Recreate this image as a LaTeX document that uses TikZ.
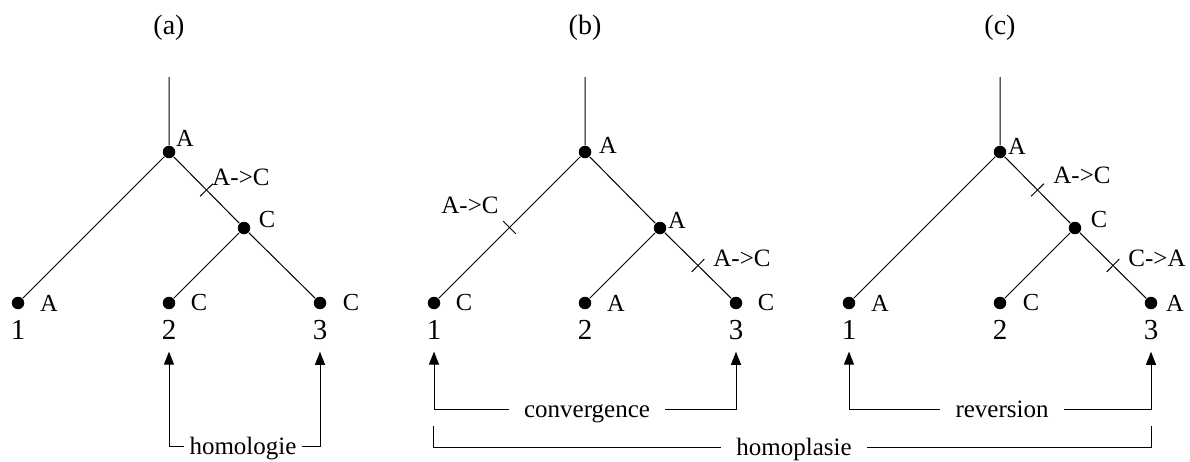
\documentclass[tikz,border=0pt]{standalone}
\usepackage{fontspec}
\setmainfont{Liberation Serif}
\usetikzlibrary{positioning,arrows.meta}

\begin{document}
\begin{tikzpicture}[x=1pt, y=-1pt, line width=1pt,
    dot/.style={circle, fill, inner sep=0pt, minimum size=12.5pt},
    st/.style={font=\fontsize{24.5}{26}\selectfont, inner sep=0pt},
    mut/.style={font=\fontsize{25}{27}\selectfont, inner sep=0pt},
    num/.style={font=\fontsize{29}{31}\selectfont, inner sep=0pt, outer ysep=12pt},
    ttl/.style={font=\fontsize{28}{30}\selectfont, inner sep=0pt},
    mutmark/.style={draw, sloped, inner sep=0pt, minimum width=0pt, minimum height=18pt},
    lab/.style={font=\fontsize{25}{27}\selectfont, inner ysep=0pt, inner xsep=15pt,
      text height=17pt, text depth=0pt},
    arr/.style={-{Triangle[length=13pt, width=10pt]}}]
  \useasboundingbox (0,0) rectangle (1190,461);

  % the three trees
  \foreach \t/\x/\n in {a/169/(a), b/585/(b), c/1000/(c)} {
    \node[ttl] (\t-title) at (\x,28) {\n};
    \coordinate (\t-top) at (\x,77);
    \node[dot] (\t0) at (\x,152) {};
    \node[dot] (\t4) at (\x+75,228) {};
    \node[dot] (\t1) at (\x-151,303) {};
    \node[dot] (\t2) at (\x,303) {};
    \node[dot] (\t3) at (\x+151,303) {};
    \draw (\t-top) -- (\t0) -- (\t1);
    \draw (\t0) -- (\t4) -- (\t2);
    \draw (\t4) -- (\t3);
    \node[num] (\t-n1) at (\x-151,330) {1};
    \node[num] (\t-n2) at (\x,330) {2};
    \node[num] (\t-n3) at (\x+151,330) {3};
  }

  % (a) homologie
  \node[st] (a0-s) at (185,138) {A};
  \node[st] (a4-s) at (267,220) {C};
  \node[st] (a1-s) at (49,303) {A};
  \node[st] (a2-s) at (199,303) {C};
  \node[st] (a3-s) at (351,303) {C};
  \path (a0) -- node[mutmark] (a-m1) {} (a4);
  \node[mut] (a-m1t) at (241,177) {A->C};

  % (b) convergence
  \node[st] (b0-s) at (608,145) {A};
  \node[st] (b4-s) at (677,220) {A};
  \node[st] (b1-s) at (464,303) {C};
  \node[st] (b2-s) at (616,303) {A};
  \node[st] (b3-s) at (766,303) {C};
  \path (b0) -- node[mutmark] (b-m1) {} (b1);
  \path (b4) -- node[mutmark] (b-m2) {} (b3);
  \node[mut] (b-m1t) at (470,205) {A->C};
  \node[mut] (b-m2t) at (742,258) {A->C};

  % (c) reversion
  \node[st] (c0-s) at (1017,146) {A};
  \node[st] (c4-s) at (1099,220) {C};
  \node[st] (c1-s) at (880,303) {A};
  \node[st] (c2-s) at (1031,303) {C};
  \node[st] (c3-s) at (1175,303) {A};
  \path (c0) -- node[mutmark] (c-m1) {} (c4);
  \path (c4) -- node[mutmark] (c-m2) {} (c3);
  \node[mut] (c-m1t) at (1082,175) {A->C};
  \node[mut] (c-m2t) at (1157,258) {C->A};

  % brackets
  \node[lab, inner xsep=5pt] (hlg) at (243,446) {homologie};
  \draw[arr] (hlg.west) -| (a-n2);
  \draw[arr] (hlg.east) -| (a-n3);
  \node[lab] (cvg) at (587,409) {convergence};
  \draw[arr] (cvg.west) -| (b-n1);
  \draw[arr] (cvg.east) -| (b-n3);
  \node[lab] (rev) at (1002,409) {reversion};
  \draw[arr] (rev.west) -| (c-n1);
  \draw[arr] (rev.east) -| (c-n3);
  \coordinate (hp-l) at (433,426);
  \coordinate (hp-r) at (1151,426);
  \node[lab] (hpl) at (794,447) {homoplasie};
  \draw (hpl.west) -| (hp-l);
  \draw (hpl.east) -| (hp-r);
\end{tikzpicture}
\end{document}
